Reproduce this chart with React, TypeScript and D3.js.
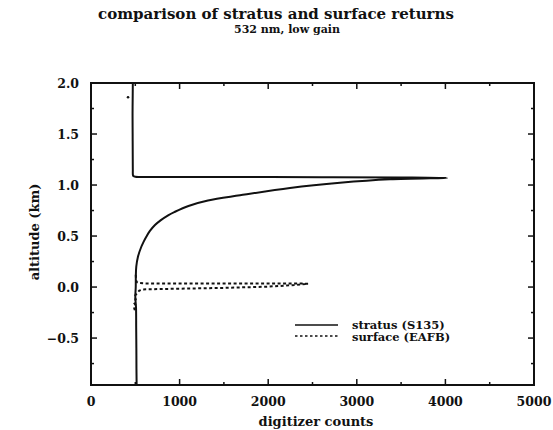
import React from "react";
import * as d3 from "d3";

// Stratus return profile: altitude (km) and digitizer counts
const stratusAlt = [2.0, 1.9, 1.7, 1.5, 1.3, 1.15, 1.1, 1.088, 1.081, 1.079, 1.078, 1.077, 1.075, 1.07,
  1.056, 1.022, 0.971, 0.899, 0.848, 0.795, 0.735, 0.706, 0.654, 0.608, 0.55, 0.493, 0.44, 0.395, 0.297,
  0.2, 0.1, 0.0, -0.1, -0.2, -0.4, -0.6, -0.8, -0.96];
const stratusCounts = [472, 471, 469, 470, 471, 472, 473, 478, 500, 560, 1500, 2600, 3500, 4020,
  3375, 2810, 2246, 1682, 1320, 1100, 940, 875, 785, 722, 665, 624, 592, 568, 530,
  511, 506, 505, 500, 508, 510, 512, 513, 515];

// Surface return profile: altitude (km) and digitizer counts
const surfaceAlt = [0.12, 0.07, 0.05, 0.04, 0.036, 0.035, 0.035, 0.034, 0.033, 0.02, 0.004, -0.008,
  -0.016, -0.021, -0.023, -0.035, -0.06, -0.09, -0.12, -0.15, -0.18, -0.21, -0.25];
const surfaceCounts = [505, 508, 515, 535, 600, 1200, 2000, 2350, 2450, 2300, 2000, 1500,
  1000, 700, 587, 545, 520, 490, 505, 482, 505, 488, 505];
const surfaceStrayAlt = [1.86];
const surfaceStrayCounts = [418];

const xTicks = [0, 1000, 2000, 3000, 4000, 5000];
const xMinor = [500, 1500, 2500, 3500, 4500];
const yTicks = [-0.5, 0.0, 0.5, 1.0, 1.5, 2.0];
const yMinor = [-0.75, -0.25, 0.25, 0.75, 1.25, 1.75];

const legendLabels = ["stratus (S135)", "surface (EAFB)"];

const W = 553;
const H = 430;
const left = 91;
const right = 534;
const top = 83;
const bottom = 385;

export default function App() {
  const x = d3.scaleLinear().domain([0, 5000]).range([left, right]);
  const y = d3.scaleLinear().domain([-0.96, 2.0]).range([bottom, top]);

  const lineLin = d3
    .line<[number, number]>()
    .x((d) => x(d[0]))
    .y((d) => y(d[1]));

  const lineSmooth = d3
    .line<[number, number]>()
    .x((d) => x(d[0]))
    .y((d) => y(d[1]))
    .curve(d3.curveCatmullRom.alpha(0.5));

  const stratus: [number, number][] = stratusAlt.map((a, i) => [stratusCounts[i], a]);
  const surface: [number, number][] = surfaceAlt.map((a, i) => [surfaceCounts[i], a]);

  const font = "'DejaVu Serif', serif";
  const ink = "#111";

  return (
    <svg
      width={W}
      height={H}
      style={{ position: "absolute", left: 0, top: 0, background: "#fff" }}
      fontFamily={font}
    >
      <rect x={0} y={0} width={W} height={H} fill="#fff" />
      <text x={276} y={19} textAnchor="middle" fontSize={15} fontWeight="bold" fill={ink}>
        comparison of stratus and surface returns
      </text>
      <text x={287} y={33} textAnchor="middle" fontSize={11} fontWeight="bold" fill={ink}>
        532 nm, low gain
      </text>

      {/* frame */}
      <rect x={left} y={top} width={right - left} height={bottom - top} fill="none" stroke={ink} strokeWidth={2} />

      {/* ticks on all four sides, pointing inward */}
      {xTicks.map((t) => (
        <g key={"xt" + t}>
          <line x1={x(t)} x2={x(t)} y1={bottom} y2={bottom - 6} stroke={ink} strokeWidth={1.5} />
          <line x1={x(t)} x2={x(t)} y1={top} y2={top + 6} stroke={ink} strokeWidth={1.5} />
          <text x={x(t)} y={406} textAnchor="middle" fontSize={12.5} fontWeight="bold" fill={ink}>
            {d3.format("d")(t)}
          </text>
        </g>
      ))}
      {xMinor.map((t) => (
        <g key={"xm" + t}>
          <line x1={x(t)} x2={x(t)} y1={bottom} y2={bottom - 3} stroke={ink} strokeWidth={1.5} />
          <line x1={x(t)} x2={x(t)} y1={top} y2={top + 3} stroke={ink} strokeWidth={1.5} />
        </g>
      ))}
      {yTicks.map((t) => (
        <g key={"yt" + t}>
          <line x1={left} x2={left + 6} y1={y(t)} y2={y(t)} stroke={ink} strokeWidth={1.5} />
          <line x1={right} x2={right - 6} y1={y(t)} y2={y(t)} stroke={ink} strokeWidth={1.5} />
          <text x={79} y={y(t) + 4.5} textAnchor="end" fontSize={12.5} fontWeight="bold" fill={ink}>
            {d3.format(".1f")(t)}
          </text>
        </g>
      ))}
      {yMinor.map((t) => (
        <g key={"ym" + t}>
          <line x1={left} x2={left + 3} y1={y(t)} y2={y(t)} stroke={ink} strokeWidth={1.5} />
          <line x1={right} x2={right - 3} y1={y(t)} y2={y(t)} stroke={ink} strokeWidth={1.5} />
        </g>
      ))}

      <text x={316} y={426} textAnchor="middle" fontSize={13} fontWeight="bold" fill={ink}>
        digitizer counts
      </text>
      <text
        transform={`translate(39, ${232}) rotate(-90)`}
        textAnchor="middle"
        fontSize={13}
        fontWeight="bold"
        fill={ink}
      >
        altitude (km)
      </text>

      {/* profiles */}
      <path d={lineLin(surface) ?? ""} fill="none" stroke={ink} strokeWidth={2} strokeDasharray="3,2.5" />
      {surfaceStrayAlt.map((a, i) => (
        <circle key={"s" + i} cx={x(surfaceStrayCounts[i])} cy={y(a)} r={1.3} fill={ink} />
      ))}
      <path d={lineSmooth(stratus) ?? ""} fill="none" stroke={ink} strokeWidth={2} strokeLinejoin="round" />

      {/* legend */}
      <line x1={295} x2={338} y1={325} y2={325} stroke={ink} strokeWidth={1.5} />
      <line x1={295} x2={338} y1={336} y2={336} stroke={ink} strokeWidth={1.5} strokeDasharray="2.5,2.5" />
      <text x={352} y={328.5} fontSize={11.5} fontWeight="bold" fill={ink}>
        {legendLabels[0]}
      </text>
      <text x={352} y={341} fontSize={11.5} fontWeight="bold" fill={ink}>
        {legendLabels[1]}
      </text>
    </svg>
  );
}
